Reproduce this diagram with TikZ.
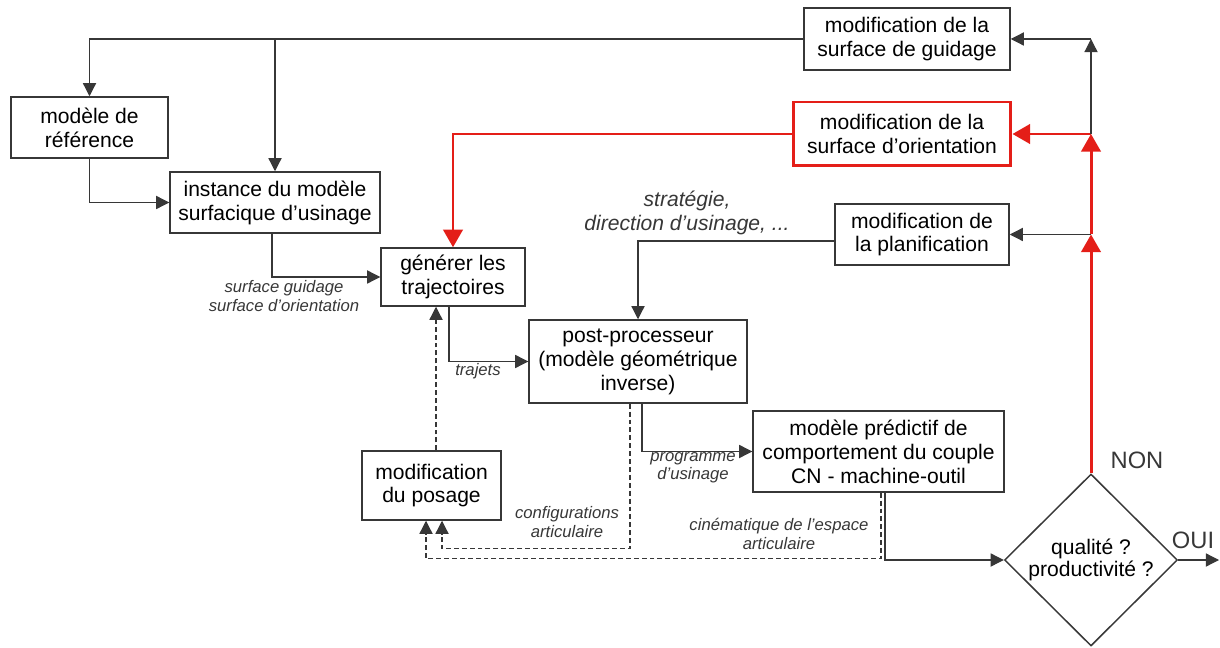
\documentclass[tikz,border=0pt]{standalone}
\usepackage{fontspec}
\setmainfont{Liberation Sans}
\usetikzlibrary{shapes.geometric}
\usetikzlibrary{arrows.meta}
\definecolor{rougeflux}{RGB}{228,30,24}
\definecolor{traitgris}{RGB}{55,55,55}
\tikzset{bloc/.style={rectangle, draw=traitgris, line width=0.85pt,
   align=center, inner sep=0pt,
   font=\fontsize{12}{13.6}\selectfont
}}
\tikzset{test/.style={diamond, aspect=1, draw=traitgris, line width=0.85pt,
   align=center, inner sep=0pt,
   font=\fontsize{12}{12.6}\selectfont
}}
\tikzset{fleche/.style={draw=traitgris, line width=0.7pt, -{Triangle[length=7.5pt,width=7.5pt]}}}
\tikzset{flecherouge/.style={draw=rougeflux, line width=1.7pt, -{Triangle[length=10pt,width=11pt]}}}
\tikzset{pointille/.style={fleche, dash pattern=on 2.8pt off 1.7pt}}
\tikzset{legende/.style={align=center, text=traitgris, font=\fontsize{9.5}{10.4}\selectfont\itshape}}
\tikzset{reponse/.style={text=traitgris, font=\fontsize{13.5}{14}\selectfont}}

\begin{document}
\begin{tikzpicture}[x=0.02cm, y=-0.02cm]

    \useasboundingbox (0,0) rectangle (1220,648);

    \node[bloc, minimum width=4.12cm, minimum height=1.24cm] (guid)   at (907,39)    {modification de la\\surface de guidage};
    \node[bloc, minimum width=3.14cm, minimum height=1.22cm] (ref)    at (89.5,127.5) {modèle de\\référence};
    \node[bloc, minimum width=4.2cm,  minimum height=1.22cm] (inst)   at (275,202.5) {instance du modèle\\surfacique d’usinage};
    \node[bloc, draw=rougeflux, line width=1.7pt,
          minimum width=4.36cm, minimum height=1.28cm]       (orient) at (902,134)   {modification de la\\surface d’orientation};
    \node[bloc, minimum width=3.48cm, minimum height=1.22cm] (plan)   at (922,234.5) {modification de\\la planification};
    \node[bloc, minimum width=2.88cm, minimum height=1.16cm] (gen)    at (453,277)   {générer les\\trajectoires};
    \node[bloc, minimum width=4.36cm, minimum height=1.66cm] (post)   at (638,361.5) {post-processeur\\(modèle géométrique\\inverse)};
    \node[bloc, minimum width=5.02cm, minimum height=1.62cm] (pred)   at (878.5,451.5) {modèle prédictif de\\comportement du couple\\CN - machine-outil};
    \node[bloc, minimum width=2.78cm, minimum height=1.38cm] (posage) at (431.5,485.5) {modification\\du posage};
    \node[test, minimum width=3.46cm, minimum height=3.44cm] (qual)   at (1091,560)  {qualité ?\\productivité ?};

    \coordinate (jg) at (qual.north |- guid.east);
    \coordinate (jo) at (qual.north |- orient.east);
    \coordinate (jp) at (qual.north |- plan.east);
    \coordinate (sortie) at (1219,560);

    \draw[fleche] (guid.west) -| (ref.north);
    \draw[fleche] (guid.west -| inst.north) -- (inst.north);
    \draw[fleche] (ref.south) |- (inst.west);
    \draw[fleche] ([xshift=-0.06cm]inst.south) |- (gen.west);
    \draw[fleche] ([yshift=-0.13cm]plan.west) -| (post.north);
    \draw[fleche] ([xshift=-0.08cm]gen.south) |- (post.west);
    \draw[fleche] ([xshift=0.08cm]post.south) |- (pred.west);
    \draw[fleche] ([xshift=0.13cm]pred.south) |- (qual.west);
    \draw[fleche] (qual.east) -- (sortie);

    \draw[pointille] ([xshift=0.09cm]posage.north) -- ([xshift=0.09cm]posage.north |- gen.south);
    \draw[pointille] ([xshift=-0.16cm]post.south) |- ([xshift=0.21cm,yshift=-0.56cm]posage.south) -- ([xshift=0.21cm]posage.south);
    \draw[pointille] ([xshift=0.05cm]pred.south) |- ([xshift=-0.11cm,yshift=-0.76cm]posage.south) -- ([xshift=-0.11cm]posage.south);

    \draw[flecherouge] (qual.north) -- (jp);
    \draw[flecherouge] (jp) -- (jo);
    \draw[flecherouge] (jo) -- (orient.east);
    \draw[flecherouge] (orient.west) -| (gen.north);
    \draw[fleche] (jp) -- (plan.east);
    \draw[fleche] (jo) -- (jg);
    \draw[fleche] (jg) -- (guid.east);

    \node[legende] (lsurf)  at (284,296) {surface guidage\\surface d’orientation};
    \node[legende, font=\fontsize{12}{13.6}\selectfont\itshape] (lstrat) at (687,213) {stratégie,\\direction d’usinage, ...};
    \node[legende] (ltraj)  at (478,371) {trajets};
    \node[legende] (lprog)  at (693,468) {programme\\d’usinage};
    \node[legende] (lconf)  at (567,522) {configurations\\articulaire};
    \node[legende] (lcine)  at (779,534) {cinématique de l’espace\\articulaire};
    \node[reponse] (non) at (1137,460) {NON};
    \node[reponse] (oui) at (1193,540) {OUI};

\end{tikzpicture}
\end{document}
